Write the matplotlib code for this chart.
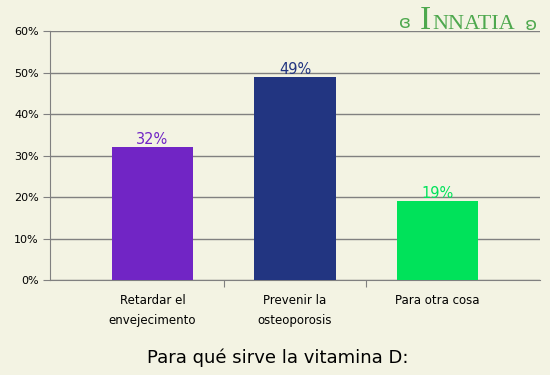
import matplotlib
matplotlib.use("Agg")
from matplotlib import pyplot as plt

categories = ["Retardar el\nenvejecimento", "Prevenir la\nosteoporosis", "Para otra cosa"]
values = [32, 49, 19]
colors = ["#7125c5", "#223581", "#00e25a"]
yticks = [0, 10, 20, 30, 40, 50, 60]

bg = "#f3f3e3"
grey = "#808080"
logo = "#4ea84e"

fig = plt.figure(figsize=(5.5, 3.75), dpi=100, facecolor=bg)
ax = fig.add_axes([0.0909, 0.2533, 0.8909, 0.664], facecolor=bg)

x = list(range(len(categories)))
ax.bar(x, values, width=0.573, color=colors, zorder=3)
for xi, v, c in zip(x, values, colors):
    ax.text(xi, v, f"{v}%", color=c, ha="center", va="bottom", fontsize=10.5)

ax.set_xlim(-0.72, 2.72)
ax.set_ylim(0, 60)
ax.set_yticks(yticks)
ax.set_yticklabels([f"{t}%" for t in yticks], fontsize=8)
ax.yaxis.grid(True, color=grey, linewidth=1, zorder=0)

# category labels without ticks, separators as ticks
ax.set_xticks([0.5, 1.5])
ax.set_xticklabels([])
ax.tick_params(axis="x", direction="out", length=5, color=grey)
ax.tick_params(axis="y", direction="out", length=5, color=grey, pad=3)
for xi, lab in zip(x, categories):
    ax.text(xi, -3.3, lab, ha="center", va="top", fontsize=8.5, linespacing=1.75)

for s in ["top", "right"]:
    ax.spines[s].set_visible(False)
for s in ["left", "bottom"]:
    ax.spines[s].set_color(grey)

fig.text(0.505, 0.045, "Para qué sirve la vitamina D:", ha="center", va="center", fontsize=13)

# logo
fig.text(0.764, 0.922, "I", ha="left", va="baseline", fontsize=24,
         color=logo, family="Liberation Serif")
fig.text(0.786, 0.922, "NNATIA", ha="left", va="baseline", fontsize=16,
         color=logo, family="Liberation Serif")
fig.text(0.736, 0.94, "ɞ", ha="center", va="center", fontsize=13, color=logo)
fig.text(0.962, 0.94, "ɞ", ha="center", va="center", fontsize=13, color=logo, rotation=180)

fig.savefig("out.png", dpi=100, facecolor=bg)
